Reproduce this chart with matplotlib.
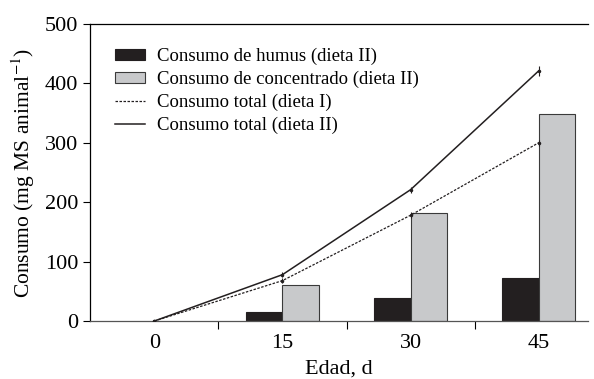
import matplotlib.pyplot as plt
from matplotlib.lines import Line2D
from matplotlib.patches import Patch
import numpy as np

# data
edad = ['0', '15', '30', '45']
humus_II = [0, 15, 39, 73]
concentrado_II = [0, 60, 182, 348]
total_I = [0, 68, 178, 300]
total_II = [0, 78, 221, 421]
err_I = [1, 4, 5, 5]
err_II = [1, 4, 5, 8]

plt.rcParams['font.family'] = ['Liberation Serif']
plt.rcParams['mathtext.fontset'] = 'stix'

fig = plt.figure(figsize=(5.94, 3.79), dpi=100)
ax = fig.add_axes([0.152, 0.153, 0.838, 0.784])

x = np.arange(len(edad))
w = 0.285
ax.bar(x[1:] - w / 2, humus_II[1:], w, color='#231f20', edgecolor='#231f20',
       linewidth=0.8, zorder=2)
ax.bar(x[1:] + w / 2, concentrado_II[1:], w, color='#c8c9cb', edgecolor='#3a3a3a',
       linewidth=0.8, zorder=2)
dash = (0, (2, 1.2))
ax.errorbar(x, total_I, yerr=err_I, color='#231f20', linestyle=dash,
            linewidth=0.9, marker='.', markersize=3, elinewidth=0.8, zorder=3)
ax.errorbar(x, total_II, yerr=err_II, color='#231f20', linestyle='-',
            linewidth=1.1, marker='.', markersize=3, elinewidth=0.8, zorder=3)

ax.set_xlim(-0.5, 3.385)
ax.set_ylim(0, 500)
ax.set_yticks([0, 100, 200, 300, 400, 500])
ax.set_xticks(x)
ax.set_xticklabels(edad)
ax.set_xticks([0.5, 1.5, 2.5], minor=True)
ax.tick_params(axis='x', which='major', length=0, pad=9, labelsize=16)
ax.tick_params(axis='x', which='minor', length=6, direction='out', width=0.8)
ax.tick_params(axis='y', length=5, direction='out', labelsize=16, width=0.8)

ax.spines['right'].set_visible(False)
for s in ['left', 'top', 'bottom']:
    ax.spines[s].set_linewidth(0.9)
ax.spines['bottom'].set_color('#555555')

ax.set_xlabel('Edad, d', fontsize=16, labelpad=5)
ax.set_ylabel(r'Consumo (mg MS animal$^{-1}$)', fontsize=15.5, labelpad=6)

handles = [
    Patch(facecolor='#231f20', edgecolor='#231f20', linewidth=0.8),
    Patch(facecolor='#c8c9cb', edgecolor='#3a3a3a', linewidth=0.8),
    Line2D([], [], color='#231f20', linestyle=dash, linewidth=0.9),
    Line2D([], [], color='#231f20', linestyle='-', linewidth=1.1),
]
labels = ['Consumo de humus (dieta II)', 'Consumo de concentrado (dieta II)',
          'Consumo total (dieta I)', 'Consumo total (dieta II)']
ax.legend(handles, labels, loc='upper left', bbox_to_anchor=(0.035, 0.945),
          frameon=False, fontsize=13.5, handlelength=1.6, handleheight=0.5,
          labelspacing=0.3, handletextpad=0.65, borderaxespad=0)

fig.savefig('out.png', dpi=100)
